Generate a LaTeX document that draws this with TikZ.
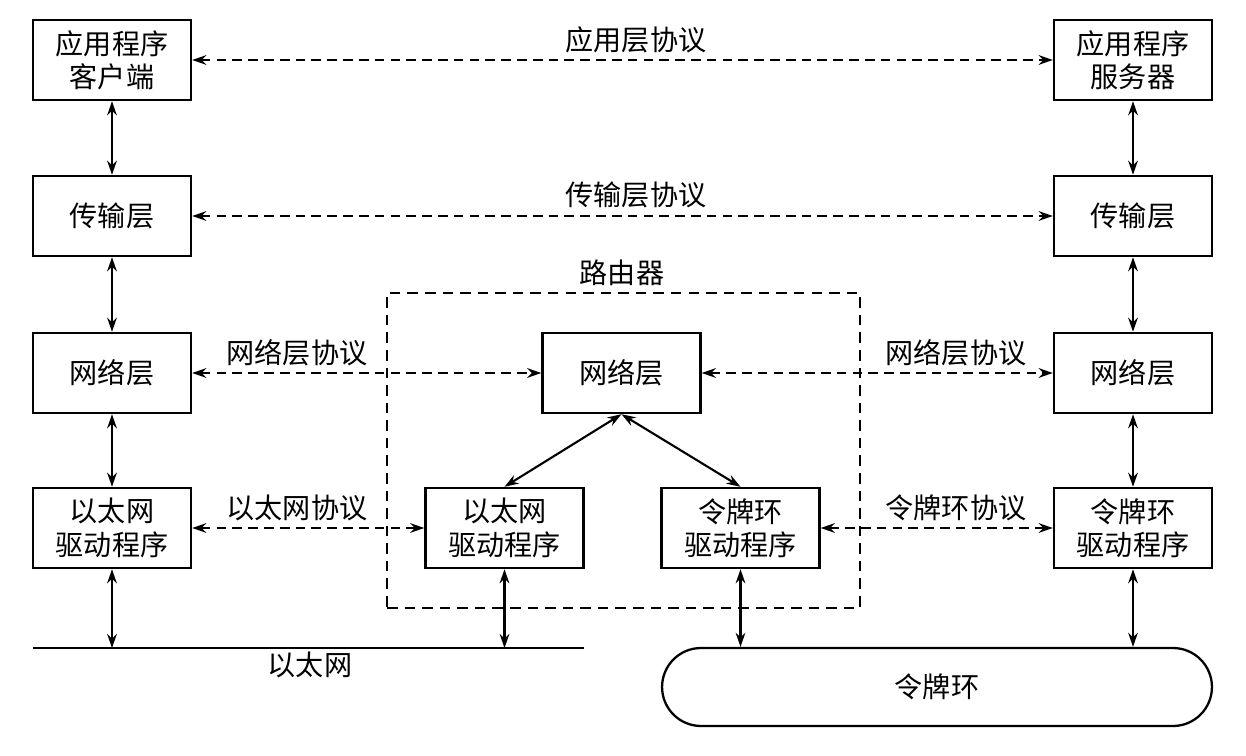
\documentclass[tikz,border=0pt]{standalone}
\usepackage{fontspec}
\setmainfont{Noto Sans CJK SC}
\usetikzlibrary{arrows.meta}

\begin{document}
\begin{tikzpicture}[x=0.02cm, y=-0.02cm,
  font=\fontsize{16}{19}\selectfont,
  layer/.style={rectangle, draw, line width=1.4pt, minimum width=3.16cm, minimum height=1.6cm, align=center, inner sep=2pt},
  link/.style={line width=1.2pt, {Stealth[length=8pt,width=5.5pt]}-{Stealth[length=8pt,width=5.5pt]}},
  proto/.style={link, dash pattern=on 5.5pt off 3.5pt},
  lbl/.style={inner sep=1pt}]
  \useasboundingbox (0,0) rectangle (1246,756);

  % router frame
  \node[draw, line width=1.3pt, dash pattern=on 6pt off 4pt, minimum width=9.46cm, minimum height=6.3cm] (router) at (623.5,450.5) {};
  \node[lbl] (router_lbl) at (622,273) {路由器};

  % client side
  \node[layer] (app_client) at (112,60) {应用程序\\客户端};
  \node[layer] (trans_left) at (112,216) {传输层};
  \node[layer] (net_left) at (112,373) {网络层};
  \node[layer] (eth_drv_left) at (112,528) {以太网\\驱动程序};

  % server side
  \node[layer] (app_server) at (1133,60) {应用程序\\服务器};
  \node[layer] (trans_right) at (1133,216) {传输层};
  \node[layer] (net_right) at (1133,373) {网络层};
  \node[layer] (tok_drv_right) at (1133,528) {令牌环\\驱动程序};

  % inside the router
  \node[layer] (router_net) at (621.5,373) {网络层};
  \node[layer] (router_eth) at (504.5,528) {以太网\\驱动程序};
  \node[layer] (router_tok) at (740.5,528) {令牌环\\驱动程序};

  % networks
  \node[inner sep=0pt] (eth_bus) at (308.5,648) {};
  \draw[line width=1.1pt] ([xshift=-5.51cm]eth_bus.center) -- ([xshift=5.51cm]eth_bus.center);
  \node[lbl] (eth_lbl) at (310,665) {以太网};
  \node[draw, line width=1.3pt, rounded corners=0.78cm, minimum width=11cm, minimum height=1.56cm] (token_ring) at (937,687) {令牌环};

  % stacks
  \draw[link] (app_client) -- (trans_left);
  \draw[link] (trans_left) -- (net_left);
  \draw[link] (net_left) -- (eth_drv_left);
  \draw[link] (eth_drv_left) -- (eth_drv_left |- eth_bus);
  \draw[link] (app_server) -- (trans_right);
  \draw[link] (trans_right) -- (net_right);
  \draw[link] (net_right) -- (tok_drv_right);
  \draw[link] (tok_drv_right) -- (tok_drv_right |- token_ring.north);
  \draw[link] (router_net.south) -- (router_eth.north);
  \draw[link] (router_net.south) -- (router_tok.north);
  \draw[link] (router_eth) -- (router_eth |- eth_bus);
  \draw[link] (router_tok) -- (router_tok |- token_ring.north);

  % peer protocols
  \draw[proto] (app_client) -- (app_server);
  \draw[proto] (trans_left) -- (trans_right);
  \draw[proto] (net_left) -- (router_net);
  \draw[proto] (router_net) -- (net_right);
  \draw[proto] (eth_drv_left) -- (router_eth);
  \draw[proto] (router_tok) -- (tok_drv_right);

  \node[lbl] (proto_app) at (636,40) {应用层协议};
  \node[lbl] (proto_trans) at (636,195) {传输层协议};
  \node[lbl] (proto_net_l) at (297,353) {网络层协议};
  \node[lbl] (proto_net_r) at (956,353) {网络层协议};
  \node[lbl] (proto_eth) at (297,508) {以太网协议};
  \node[lbl] (proto_tok) at (956,508) {令牌环协议};
\end{tikzpicture}
\end{document}
